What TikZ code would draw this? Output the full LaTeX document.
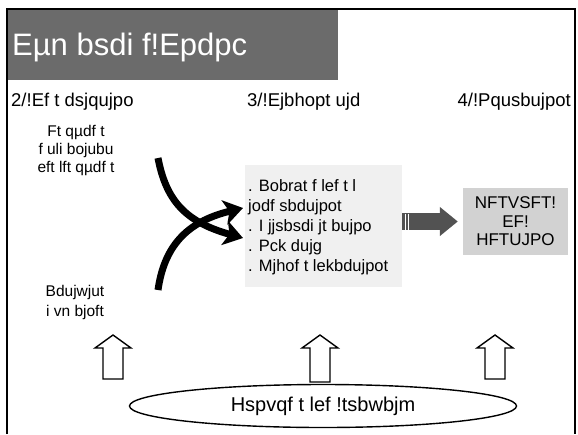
\documentclass[tikz,border=0pt]{standalone}
\usepackage{fontspec}
\setmainfont{Liberation Sans}
\usetikzlibrary{arrows.meta,shapes.geometric}

\begin{document}
\begin{tikzpicture}[x=1pt, y=-1pt,
    hd/.style={font=\fontsize{18.5}{21}\selectfont, inner sep=0pt},
    txt/.style={font=\fontsize{15.5}{18}\selectfont, align=center, inner sep=0pt},
    flow/.style={line width=7pt, -{Stealth[length=19pt, width=25pt, inset=5pt]}},
    gflow/.style={line width=17pt, black!68, -{Triangle[length=18pt, width=28pt]}, shorten >=5pt},
    uparrow/.style={draw, line width=1.4pt, fill=white}]
  \useasboundingbox (0,0) rectangle (578,434);
  % frame and title bar
  \draw[line width=1.2pt] (7,434) -- (7,9) -- (575,9) -- (575,434);
  \node[fill=black!58, minimum width=330pt, minimum height=70pt, inner sep=0pt] (titlebar) at (173,45) {};
  \node[anchor=west, text=white, font=\fontsize{31}{34}\selectfont, inner sep=0pt] (title) at (12,47) {Eµn bsdi f!Epdpc};
  % column heads
  \node[hd, anchor=west] (h1) at (11,102) {2/!Ef t dsjqujpo};
  \node[hd, anchor=west] (h2) at (247,102) {3/!Ejbhopt ujd};
  \node[hd, anchor=east] (h3) at (571,102) {4/!Pqusbujpot};
  % left column
  \node[txt] (especes) at (76,150) {Ft qµdf t\\f uli bojubu\\eft lft qµdf t};
  \node[txt, font=\fontsize{15.5}{20}\selectfont] (activites) at (75,302) {Bdujwjut\\i vn bjoft};
  % diagnostic box
  \node[fill=gray!12, minimum width=157pt, minimum height=122pt, inner sep=0pt] (diag) at (323.5,226) {};
  \node[anchor=west, align=left, font=\fontsize{16.5}{20}\selectfont, inner sep=0pt] (diagtxt) at (248,227)
    {. Bobrat f lef t l\\jodf sbdujpot\\. I jjsbsdi jt bujpo\\. Pck dujg\\. Mjhof t lekbdujpot};
  % orientations box
  \node[fill=gray!35, minimum width=105pt, minimum height=67pt, inner sep=0pt, align=center,
    font=\fontsize{17}{18.5}\selectfont] (mesures) at (515.5,221.5) {NFTVSFT!\\EF!\\HFTUJPO};
  % working groups
  \node[ellipse, draw, line width=1.4pt, minimum width=387pt, minimum height=43pt, inner sep=0pt,
    font=\fontsize{20}{24}\selectfont] (groupes) at (323,406) {Hspvqf t lef !tsbwbjm};
  % crossing arrows into the diagnostic
  \coordinate (fromEsp) at (158,158);
  \coordinate (fromAct) at (158,290);
  \coordinate (toLow) at (243,238);
  \coordinate (toHigh) at (243,208);
  \draw[flow] (fromEsp) .. controls (166,200) and (185,222) .. (toLow);
  \draw[flow] (fromAct) .. controls (164,248) and (185,222) .. (toHigh);
  % diagnostic to measures
  \draw[gflow] (diag.east |- mesures.west) -- (mesures.west);
  \foreach \s in {405,408.5} \draw[white, line width=0.9pt] (\s,213.5) -- (\s,229.5);
  % hollow arrows up from the groups
  \foreach \x/\b in {113/379, 320/382, 495/379}
    \draw[uparrow] (\x,335) -- (\x+18,348) -- (\x+10,348) -- (\x+10,\b) -- (\x-10,\b) -- (\x-10,348) -- (\x-18,348) -- cycle;
\end{tikzpicture}
\end{document}
